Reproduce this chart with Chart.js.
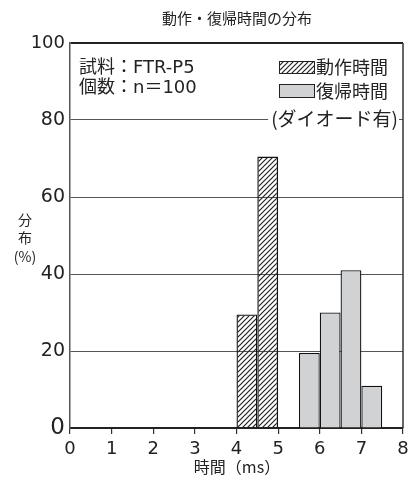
<!DOCTYPE html>
<html lang="ja">
<head>
<meta charset="utf-8">
<script src="https://cdn.jsdelivr.net/npm/chart.js@4.4.1/dist/chart.umd.min.js"></script>
<style>
  html, body { margin: 0; padding: 0; background: #fff; }
  #wrap { width: 408px; height: 483px; }
</style>
</head>
<body>
<div id="wrap"><canvas id="bunpu"></canvas></div>
<script>
// 階級の中心 (ms) と分布 (%)
const dousaBins = [4.25, 4.75];
const dousaPct = [29.5, 70.5];
const fukkiBins = [5.75, 6.25, 6.75, 7.25];
const fukkiPct = [19.5, 30, 41, 11];
const xTicks = [0, 1, 2, 3, 4, 5, 6, 7, 8];
const yTicks = [0, 20, 40, 60, 80, 100];

const FONT = '"DejaVu Sans", "Noto Sans CJK JP", sans-serif';
const JP = '"Noto Sans CJK JP", "DejaVu Sans", sans-serif';

// 斜線ハッチング
function hatch() {
  const s = 5;
  const c = document.createElement("canvas");
  c.width = s;
  c.height = s;
  const g = c.getContext("2d");
  g.strokeStyle = "#222";
  g.lineWidth = 1.2;
  g.beginPath();
  g.moveTo(0, s); g.lineTo(s, 0);
  g.moveTo(-1, 1); g.lineTo(1, -1);
  g.moveTo(s - 1, s + 1); g.lineTo(s + 1, s - 1);
  g.stroke();
  return g.createPattern(c, "repeat");
}
const hatchFill = hatch();
const grayFill = "#d1d2d4";

const pts = (xs, ys) => xs.map((x, i) => ({ x: x, y: ys[i] }));

// タイトル・注記・凡例・枠
const extras = {
  id: "extras",
  afterDraw(chart) {
    const g = chart.ctx;
    const xs = chart.scales.x;
    const ys = chart.scales.y;
    g.save();

    // 右枠
    g.strokeStyle = "#333";
    g.lineWidth = 1.5;
    g.beginPath();
    g.moveTo(xs.getPixelForValue(8), ys.getPixelForValue(100));
    g.lineTo(xs.getPixelForValue(8), ys.getPixelForValue(0));
    g.stroke();

    g.fillStyle = "#222";
    g.textBaseline = "middle";

    g.font = "15px " + JP;
    g.textAlign = "center";
    g.fillText("動作・復帰時間の分布", 237, 18);

    g.font = "14px " + JP;
    g.fillText("分", 25, 220);
    g.fillText("布", 25, 238);
    g.fillText("(%)", 25, 257);

    g.font = "16px " + JP;
    g.fillText("時間（ms）", 237, 467);

    g.font = "18px " + FONT;
    g.textAlign = "left";
    g.fillText("試料：FTR-P5", 79, 68);
    g.fillText("個数：n＝100", 79, 88);

    // 凡例
    g.fillStyle = hatchFill;
    g.fillRect(279, 61, 35, 12);
    g.strokeStyle = "#222";
    g.lineWidth = 1;
    g.strokeRect(279.5, 61.5, 35, 12);
    g.fillStyle = grayFill;
    g.fillRect(279, 84, 35, 13);
    g.strokeRect(279.5, 84.5, 35, 13);

    g.fillStyle = "#222";
    g.font = "18px " + JP;
    g.fillText("動作時間", 316, 67);
    g.fillText("復帰時間", 316, 91);

    // 80% 線上の注記 (線を切って書く)
    const note = "(ダイオード有)";
    const y80 = ys.getPixelForValue(80);
    g.font = "19px " + JP;
    const w = g.measureText(note).width;
    const right = 398;
    g.fillStyle = "#fff";
    g.fillRect(right - w - 3, y80 - 3, w + 4, 6);
    g.fillStyle = "#222";
    g.textAlign = "right";
    g.fillText(note, right, y80 - 1);

    g.restore();
  }
};

const barStyle = {
  grouped: false,
  barPercentage: 1,
  categoryPercentage: 1,
  borderColor: "#111",
  borderWidth: 1.3,
  inflateAmount: 0,
};

new Chart(document.getElementById("bunpu"), {
  type: "bar",
  data: {
    datasets: [
      Object.assign({ label: "動作時間", data: pts(dousaBins, dousaPct), backgroundColor: hatchFill }, barStyle),
      Object.assign({ label: "復帰時間", data: pts(fukkiBins, fukkiPct), backgroundColor: grayFill }, barStyle),
    ],
  },
  options: {
    responsive: true,
    maintainAspectRatio: false,
    animation: false,
    layout: { padding: { top: 43, right: 5, bottom: 0, left: 0 } },
    plugins: {
      legend: { display: false },
      title: { display: false },
      tooltip: { enabled: false },
    },
    scales: {
      x: {
        type: "linear",
        offset: false,
        min: 0,
        max: 8,
        afterBuildTicks: (s) => { s.ticks = xTicks.map((v) => ({ value: v })); },
        afterFit: (s) => { s.height = 55; s.paddingLeft = 0; s.paddingRight = 0; },
        ticks: { color: "#222", font: { size: 18, family: FONT }, padding: 5, maxRotation: 0, autoSkip: false },
        grid: { offset: false, drawOnChartArea: false, drawTicks: true, tickLength: 6, color: "#333", lineWidth: 1.2 },
        border: { color: "#222", width: 2 },
      },
      y: {
        min: 0,
        max: 100,
        afterBuildTicks: (s) => { s.ticks = yTicks.map((v) => ({ value: v })); },
        afterFit: (s) => { s.width = 70; },
        ticks: {
          color: "#222",
          padding: 5,
          font: (c) => ({
            family: FONT,
            size: c.tick && c.tick.value === 0 ? 23 : (c.tick && c.tick.value === 100 ? 18 : 19),
          }),
        },
        grid: {
          drawTicks: false,
          color: (c) => (c.tick.value === 0 ? "rgba(0,0,0,0)" : c.tick.value === 100 ? "#222" : "#555"),
          lineWidth: (c) => (c.tick.value === 100 ? 2 : 1),
        },
        border: { color: "#555", width: 1.5 },
      },
    },
  },
  plugins: [extras],
});
</script>
</body>
</html>
